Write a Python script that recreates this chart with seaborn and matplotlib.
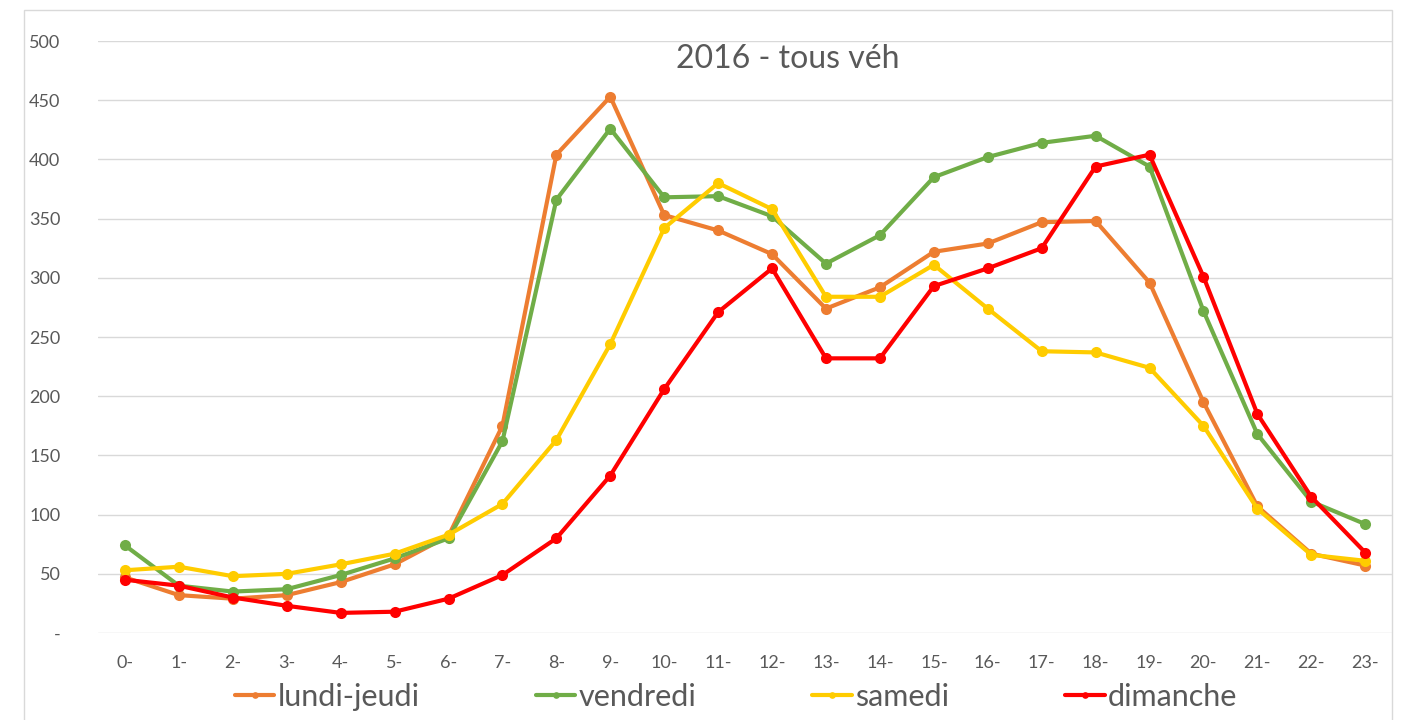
import numpy as np
import pandas as pd
import seaborn as sns
import matplotlib.pyplot as plt
from matplotlib.patches import Rectangle

hours = [f"{h}-" for h in range(24)]

lundi_jeudi = [47, 32, 29, 32, 43, 58, 82, 175, 404, 453, 353, 340,
               320, 274, 292, 322, 329, 347, 348, 296, 195, 107, 67, 57]
vendredi = [74, 40, 35, 37, 49, 63, 80, 162, 366, 426, 368, 369,
            352, 312, 336, 385, 402, 414, 420, 394, 272, 168, 111, 92]
samedi = [53, 56, 48, 50, 58, 67, 83, 109, 163, 244, 342, 380,
          358, 284, 284, 311, 274, 238, 237, 224, 175, 105, 66, 61]
dimanche = [45, 40, 30, 23, 17, 18, 29, 49, 80, 133, 206, 271,
            308, 232, 232, 293, 308, 325, 394, 404, 301, 185, 115, 68]

series = {'lundi-jeudi': lundi_jeudi, 'vendredi': vendredi,
          'samedi': samedi, 'dimanche': dimanche}
colors = ['#ED7D31', '#70AD47', '#FFCC00', '#FF0000']

rows = []
for name, vals in series.items():
    for i, v in enumerate(vals):
        rows.append({'pos': i, 'heure': hours[i], 'serie': name, 'val': v})
df = pd.DataFrame(rows)

sns.set_style('white')
plt.rcParams['font.family'] = ['Lato', 'DejaVu Sans']

fig = plt.figure(figsize=(14.02, 7.2), dpi=100)
ax = fig.add_axes([0.0699, 0.1208, 0.9231, 0.8222])

sns.lineplot(
    ax=ax,
    data=df,
    x='pos',
    y='val',
    hue='serie',
    hue_order=list(series.keys()),
    palette=colors,
    marker='o',
    markersize=8,
    markeredgewidth=0,
    linewidth=3,
    legend=True,
)

ax.set_xlim(-0.5, 23.5)
ax.set_ylim(0, 500)
ax.set_xticks(range(24))
ax.set_xticklabels(hours)
yt = list(range(0, 501, 50))
ax.set_yticks(yt)
ax.set_yticklabels(['-' if v == 0 else str(v) for v in yt])
ax.tick_params(axis='both', length=0, labelsize=13, colors='#595959')
ax.tick_params(axis='y', pad=27)
ax.tick_params(axis='x', pad=16)
ax.grid(axis='y', color='#D9D9D9', linewidth=1)
ax.set_axisbelow(True)
for s in ax.spines.values():
    s.set_visible(False)
ax.set_xlabel('')
ax.set_ylabel('')

fig.text(0.562, 0.918, '2016 - tous véh',
         ha='center', va='center', fontsize=23, color='#595959')

handles, labels = ax.get_legend_handles_labels()
ax.legend_.remove()
leg = fig.legend(handles, labels, loc='center', bbox_to_anchor=(0.525, 0.032),
                 ncol=4, frameon=False, fontsize=22, handlelength=1.3,
                 handletextpad=0.1, columnspacing=3.8, markerscale=0.6)
for t in leg.get_texts():
    t.set_color('#595959')

fig.patches.append(Rectangle((0.017, -0.01), 0.976, 0.996, transform=fig.transFigure,
                             fill=False, edgecolor='#D9D9D9', linewidth=1))

plt.savefig('out.png', dpi=100)
